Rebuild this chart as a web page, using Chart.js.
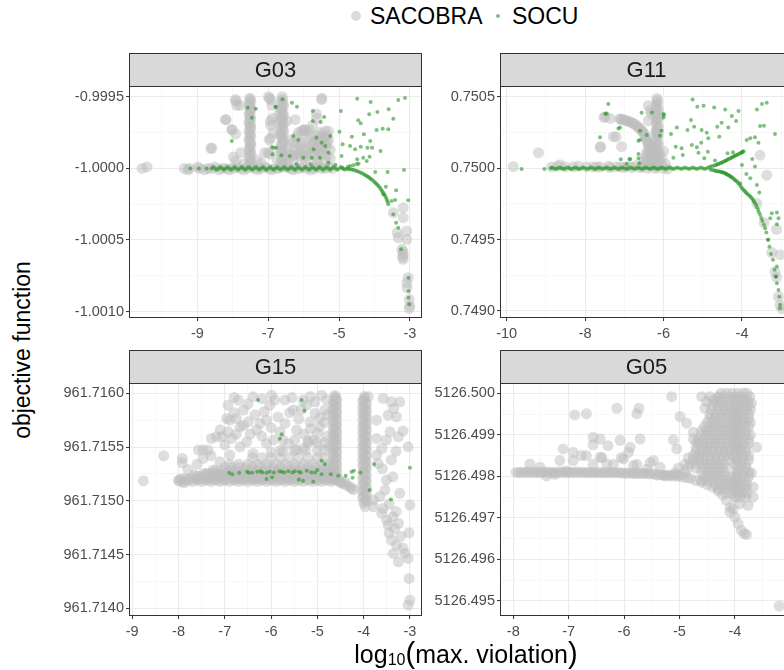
<!DOCTYPE html>
<html>
<head>
<meta charset="utf-8">
<script src="https://cdn.jsdelivr.net/npm/chart.js@4.4.0/dist/chart.umd.min.js"></script>
<style>
  html, body { margin: 0; padding: 0; background: #fff; overflow: hidden; }
  #page { position: relative; width: 784px; height: 670px; overflow: hidden; background: #fff;
          font-family: "Liberation Sans", Arial, sans-serif; color: #000; }
  canvas.panel { position: absolute; }
  .txt { position: absolute; white-space: nowrap; line-height: 23px; }
  .key { position: absolute; border-radius: 50%; }
</style>
</head>
<body>
<div id="page">
  <div class="key" style="left:351px;top:11px;width:10px;height:10px;background:rgba(190,190,190,0.55)"></div>
  <div class="txt" style="left:370px;top:5px;font-size:23px">SACOBRA</div>
  <div class="key" style="left:496px;top:14px;width:4px;height:4px;background:rgba(40,150,40,0.6)"></div>
  <div class="txt" style="left:512px;top:5px;font-size:23px">SOCU</div>

  <canvas id="g03" class="panel" width="397" height="291" style="left:37px;top:53px"></canvas>
  <canvas id="g11" class="panel" width="397" height="291" style="left:408px;top:53px"></canvas>
  <canvas id="g15" class="panel" width="397" height="292" style="left:37px;top:350px"></canvas>
  <canvas id="g05" class="panel" width="397" height="292" style="left:408px;top:350px"></canvas>

  <div class="txt" style="left:22px;top:350px;font-size:23px;transform:translate(-50%,-50%) rotate(-90deg)">objective function</div>
  <div class="txt" style="left:466px;top:641px;font-size:25px;line-height:25px;transform:translateX(-50%)">log<span style="font-size:16px;vertical-align:-2px">10</span><span style="font-size:29px">(</span>max. violation<span style="font-size:29px">)</span></div>
</div>

<script>
// ---------- data ----------
const panelTitles = ["G03", "G11", "G15", "G05"];
const seriesNames = ["SACOBRA", "SOCU"];

// G03
const g03Sacobra = [
  [-10.56,-1.0],[-10.42,-0.99999],[-9.37,-1.0],[-9.27,-1.00001],[-9.22,-1.0],[-8.99,-0.99999],[-8.94,-1.0],[-8.8,-1.00001],
  [-8.7,-1.0],[-8.6,-1.0],[-8.5,-0.99999],[-8.4,-1.00001],[-8.3,-1.0],[-8.19,-1.0],[-8.1,-1.00001],[-8.0,-1.0],[-7.9,-0.99999],
  [-7.8,-1.0],[-7.7,-1.00001],[-7.6,-1.0],[-7.4,-1.0],[-7.3,-1.00001],[-7.2,-1.0],[-7.1,-0.99999],[-7.0,-1.0],[-6.9,-1.00001],
  [-6.8,-1.0],[-6.7,-1.0],[-6.5,-0.99999],[-6.4,-1.0],[-6.3,-1.00001],[-6.2,-1.0],[-6.1,-1.0],[-6.0,-0.99999],[-5.9,-1.0],
  [-5.8,-1.00001],[-5.7,-1.0],[-5.6,-0.99999],[-5.5,-1.0],[-5.4,-1.0],[-5.3,-0.99999],[-5.2,-1.0],
  [-7.52,-0.99997],[-7.5,-0.99994],[-7.53,-0.99991],[-7.51,-0.99988],[-7.52,-0.99985],[-7.5,-0.99982],[-7.53,-0.99979],[-7.51,-0.99976],
  [-7.52,-0.99973],[-7.5,-0.9997],[-7.53,-0.99967],[-7.51,-0.99964],[-7.52,-0.99961],[-7.5,-0.99958],[-7.53,-0.99955],[-7.51,-0.99952],[-7.52,-0.99951],
  [-7.54,-0.999985],[-7.49,-0.999955],[-7.54,-0.999925],[-7.49,-0.999895],[-7.54,-0.999865],[-7.49,-0.999835],[-7.54,-0.999805],[-7.49,-0.999775],
  [-7.54,-0.999745],[-7.49,-0.999715],[-7.54,-0.999685],[-7.49,-0.999655],[-7.54,-0.999625],[-7.49,-0.999595],[-7.54,-0.999565],[-7.49,-0.999535],
  [-6.6,-0.99997],[-6.62,-0.99994],[-6.58,-0.99991],[-6.6,-0.99988],[-6.63,-0.99985],[-6.59,-0.99982],[-6.6,-0.99979],[-6.62,-0.99976],
  [-6.58,-0.99973],[-6.6,-0.9997],[-6.63,-0.99967],[-6.59,-0.99964],[-6.6,-0.99961],[-6.62,-0.99958],[-6.58,-0.99955],[-6.6,-0.99952],
  [-6.61,-0.9995],[-6.7,-0.99962],[-6.72,-0.99968],[-6.68,-0.99976],
  [-6.57,-0.999985],[-6.64,-0.999955],[-6.57,-0.999925],[-6.64,-0.999895],[-6.57,-0.999865],[-6.64,-0.999835],[-6.57,-0.999805],[-6.64,-0.999775],
  [-6.57,-0.999745],[-6.64,-0.999715],[-6.57,-0.999685],[-6.64,-0.999655],[-6.57,-0.999625],[-6.64,-0.999595],[-6.57,-0.999565],[-6.64,-0.999535],
  [-7.91,-0.99953],[-7.89,-0.99956],[-8.19,-0.99966],[-8.03,-0.99973],[-7.92,-0.99976],[-8.62,-0.99986],[-7.78,-0.99989],[-7.92,-0.99995],
  [-6.97,-0.99951],[-6.93,-0.99952],[-6.9,-0.99956],[-7.1,-0.99989],[-7.0,-0.99989],[-6.95,-0.9999],[-6.88,-0.99965],[-6.93,-0.9997],
  [-6.85,-0.99975],[-6.97,-0.9998],[-5.49,-0.99952],[-5.64,-0.99962],[-5.96,-0.99973],[-6.06,-0.99974],[-8.02,-0.99973],[-8.59,-0.99986],
  [-8.21,-0.99966],[-7.93,-0.99952],[-7.79,-0.99956],[-6.99,-0.9995],[-6.94,-0.99967],[-6.94,-0.99979],[-6.47,-0.99967],[-6.24,-0.99966],
  [-6.0,-0.99973],[-5.95,-0.99974],[-6.19,-0.99982],[-6.28,-0.99987],[-6.09,-0.99992],[-5.49,-0.99951],[-5.63,-0.99965],[-5.82,-0.99977],
  [-5.63,-0.9998],[-5.44,-0.99978],[-5.34,-0.99982],[-5.49,-0.99987],[-5.72,-0.99987],[-5.25,-0.99987],[-5.91,-0.99992],[-6.28,-0.99994],
  [-5.63,-0.99994],[-5.39,-0.99994],[-7.32,-0.99994],[-7.98,-0.99992],[-6.66,-0.99987],[-5.8,-0.99984],[-5.6,-0.99985],[-5.5,-0.99978],
  [-5.4,-0.99974],[-5.35,-0.99977],[-5.5,-0.9999],[-5.7,-0.99991],[-6.0,-0.99987],[-5.9,-0.9998],[-6.2,-0.99978],[-6.1,-0.99985],
  [-5.3,-0.9998],[-5.45,-0.99982],[-5.55,-0.99975],[-5.75,-0.9997],[-6.05,-0.99982],[-6.35,-0.9999],[-6.4,-0.9998],
  [-6.4,-0.99993],[-6.3,-0.99991],[-6.2,-0.9999],[-6.1,-0.99989],[-6.0,-0.99991],[-5.9,-0.99988],[-5.8,-0.9999],[-5.7,-0.99982],
  [-5.6,-0.9998],[-5.55,-0.99988],[-5.45,-0.99985],[-5.4,-0.99979],[-5.35,-0.99985],[-5.3,-0.99974],[-5.5,-0.99982],[-5.65,-0.99977],
  [-5.75,-0.99985],[-5.85,-0.99973],[-6.15,-0.99975],[-6.3,-0.99982],[-6.45,-0.99986],[-5.95,-0.99995],[-5.6,-0.99996],[-5.35,-0.99991],
  [-5.25,-0.99993],[-6.75,-0.99994],[-6.5,-0.99996],[-7.2,-0.99996],[-7.7,-0.99997],
  [-3.19,-1.000274],[-3.47,-1.000309],[-3.19,-1.000344],[-3.09,-1.000437],[-3.36,-1.000449],[-3.33,-1.000484],[-3.09,-1.000495],
  [-3.23,-1.000565],[-3.19,-1.0006],[-3.19,-1.000634],[-3.05,-1.000763],[-3.09,-1.000798],[-3.08,-1.000833],[-3.02,-1.000914],
  [-3.0,-1.00096],[-3.02,-1.000977],[-3.2,-1.00058],[-3.21,-1.00062]
];
const g03Socu = [
  [-9.2,-1.0],[-8.96,-1.0],[-8.74,-1.0],
  [-8.6,-1.0],[-8.55,-0.99999],[-8.5,-1.0],[-8.45,-1.00001],[-8.4,-1.0],[-8.35,-0.99999],[-8.3,-1.0],[-8.25,-1.00001],[-8.2,-1.0],
  [-8.15,-0.99999],[-8.1,-1.0],[-8.05,-1.00001],[-8.0,-1.0],[-7.95,-0.99999],[-7.9,-1.0],[-7.85,-1.00001],[-7.8,-1.0],[-7.75,-0.99999],
  [-7.7,-1.0],[-7.65,-1.00001],[-7.6,-1.0],[-7.55,-0.99999],[-7.5,-1.0],[-7.45,-1.00001],[-7.4,-1.0],[-7.35,-0.99999],[-7.3,-1.0],
  [-7.25,-1.00001],[-7.2,-1.0],[-7.15,-0.99999],[-7.1,-1.0],[-7.05,-1.00001],[-7.0,-1.0],[-6.95,-0.99999],[-6.9,-1.0],[-6.85,-1.00001],
  [-6.8,-1.0],[-6.75,-0.99999],[-6.7,-1.0],[-6.65,-1.00001],[-6.6,-1.0],[-6.55,-0.99999],[-6.5,-1.0],[-6.45,-1.00001],[-6.4,-1.0],
  [-6.35,-0.99999],[-6.3,-1.0],[-6.25,-1.00001],[-6.2,-1.0],[-6.15,-0.99999],[-6.1,-1.0],[-6.05,-1.00001],[-6.0,-1.0],[-5.95,-0.99999],
  [-5.9,-1.0],[-5.85,-1.00001],[-5.8,-1.0],[-5.75,-0.99999],[-5.7,-1.0],[-5.65,-1.00001],[-5.6,-1.0],[-5.55,-0.99999],[-5.5,-1.0],
  [-5.45,-1.00001],[-5.4,-1.0],[-5.35,-0.99999],[-5.3,-1.0],[-5.25,-1.00001],[-5.2,-1.0],[-5.15,-0.99999],[-5.1,-1.0],[-5.05,-1.00001],
  [-5.0,-1.0],[-4.95,-0.99999],[-4.9,-1.0],[-4.85,-1.00001],
  [-4.8,-1.000003],[-4.75,-1.000005],[-4.7,-1.000006],[-4.65,-1.000008],[-4.6,-1.00001],[-4.55,-1.000014],[-4.5,-1.000018],
  [-4.45,-1.000023],[-4.4,-1.000028],[-4.35,-1.000034],[-4.3,-1.00004],[-4.26,-1.000047],[-4.22,-1.000053],[-4.18,-1.000059],
  [-4.15,-1.000065],[-4.11,-1.000072],[-4.08,-1.000078],[-4.03,-1.000088],[-3.99,-1.000097],[-3.96,-1.000105],[-3.92,-1.000114],
  [-3.89,-1.000123],[-3.85,-1.000134],[-3.82,-1.000145],[-3.79,-1.000157],[-3.76,-1.000168],[-3.73,-1.00018],[-3.7,-1.000193],
  [-3.67,-1.000206],[-3.65,-1.00022],[-3.63,-1.000235],[-3.61,-1.00025],
  [-4.9,-0.999995],[-4.75,-0.999988],[-4.69,-0.999983],[-4.6,-0.999978],[-4.5,-0.99997],[-4.45,-0.999967],
  [-6.6,-0.999518],[-6.33,-0.999542],[-6.19,-0.999569],[-6.8,-0.999569],[-5.74,-0.9996],[-5.74,-0.999669],[-5.52,-0.999676],
  [-5.42,-0.999641],[-4.95,-0.9996],[-4.49,-0.999514],[-4.11,-0.999537],[-3.92,-0.999607],[-4.15,-0.999622],[-3.6,-0.999588],
  [-3.33,-0.999523],[-3.14,-0.999509],[-3.47,-0.999653],[-4.46,-0.999664],[-4.39,-0.999685],[-3.94,-0.999732],[-3.77,-0.999723],
  [-3.61,-0.999727],[-4.99,-0.999744],[-4.3,-0.999762],[-4.64,-0.999779],[-4.12,-0.999809],[-4.07,-0.999856],[-4.2,-0.999856],
  [-4.39,-0.999849],[-4.55,-0.999867],[-4.69,-0.999844],[-4.9,-0.999832],[-3.83,-0.999879],[-4.93,-0.999913],[-4.49,-0.999936],
  [-4.32,-0.999925],[-4.14,-0.999918],[-4.22,-0.999948],[-3.98,-1.000025],[-3.63,-1.000025],[-3.17,-1.000011],[-3.68,-1.000128],
  [-3.39,-1.000153],[-3.75,-1.000181],[-3.42,-1.000221],[-3.52,-1.000227],[-3.05,-1.000223],[-3.47,-1.00032],[-3.39,-1.000379],
  [-3.33,-1.000414],[-3.25,-1.000565],[-3.04,-1.000763],[-3.04,-1.000856],[-3.04,-1.000902],[-3.02,-1.000948],
  [-6.29,-0.999774],[-6.15,-0.999802],[-5.64,-0.999786],[-5.49,-0.999821],[-5.39,-0.999844],[-5.25,-0.999774],[-5.3,-0.99989],
  [-5.72,-0.999867],[-5.77,-0.999925],[-5.54,-0.999925],[-6.01,-0.999925],[-6.39,-0.999913],[-6.63,-0.999909],[-6.85,-0.999856],
  [-7.58,-0.999576],[-7.35,-0.999583],[-7.46,-0.999646],[-8.03,-0.999809],[-6.9,-0.999851],[-6.78,-0.999856],[-6.88,-0.999902],
  [-6.78,-0.999572],[-5.8,-0.99997],[-5.3,-0.99996],[-5.1,-0.999975],[-6.2,-0.99997]
];

// G11
const g11Sacobra = [
  [-9.83,0.750012],[-9.19,0.75011],[-8.85,0.75001],[-8.64,0.750025],[-8.51,0.75001],[-8.17,0.750015],[-7.96,0.75001],[-7.79,0.75001],
  [-7.62,0.75001],[-7.36,0.750005],[-7.2,0.75001],[-7.0,0.750005],[-6.8,0.750005],[-6.6,0.750005],[-6.4,0.75],[-6.2,0.75],[-6.0,0.75],
  [-5.9,0.749995],
  [-7.6,0.750152],[-7.52,0.750357],[-7.36,0.75035],[-7.21,0.750222],[-7.07,0.750152],[-7.49,0.750362],[-7.28,0.750222],[-7.62,0.750147],
  [-7.12,0.750346],[-7.05,0.750342],[-6.94,0.750334],[-6.85,0.750325],[-6.77,0.750315],[-6.68,0.750298],[-6.6,0.750276],[-6.53,0.750255],
  [-6.47,0.750229],[-6.43,0.7502],[-6.39,0.750171],[-6.36,0.750135],[-6.33,0.750101],[-6.31,0.75007],[-6.3,0.750042],
  [-7.08,0.750344],[-6.99,0.750338],[-6.9,0.75033],[-6.81,0.75032],[-6.72,0.750307],[-6.64,0.750287],[-6.56,0.750266],[-6.5,0.750242],
  [-6.45,0.750215],[-6.41,0.750186],[-6.37,0.750153],[-6.34,0.750118],[-6.32,0.750086],[-6.3,0.750056],[-6.3,0.75002],
  [-6.17,0.75001],[-6.15,0.75004],[-6.18,0.75007],[-6.16,0.7501],[-6.17,0.75013],[-6.15,0.75016],[-6.18,0.75019],[-6.16,0.75022],
  [-6.17,0.75025],[-6.15,0.75028],[-6.18,0.75031],[-6.16,0.75034],[-6.17,0.75037],[-6.15,0.7504],[-6.18,0.75043],[-6.16,0.75046],
  [-6.17,0.75049],
  [-6.19,0.750025],[-6.14,0.750055],[-6.19,0.750085],[-6.14,0.750115],[-6.19,0.750145],[-6.14,0.750175],[-6.19,0.750205],[-6.14,0.750235],
  [-6.19,0.750265],[-6.14,0.750295],[-6.19,0.750325],[-6.14,0.750355],[-6.19,0.750385],[-6.14,0.750415],[-6.19,0.750445],[-6.16,0.750475],
  [-6.39,0.750439],[-6.34,0.750404],[-6.39,0.750334],[-6.45,0.7501],[-6.5,0.75006],[-6.25,0.75015],[-6.2,0.75025],[-6.45,0.75003],
  [-6.1,0.75005],[-6.05,0.75002],[-6.3,0.75038],[-6.0,0.75012],[-5.95,0.75003],[-6.4,0.75005],[-6.35,0.75002],[-6.25,0.75008],
  [-6.45,0.75008],[-6.35,0.75006],[-6.25,0.75004],[-6.4,0.75013],[-6.3,0.75011],[-6.1,0.7501],[-6.05,0.75007],[-6.5,0.75003],
  [-6.55,0.75001],[-6.7,0.75002],[-6.9,0.750015],[-7.1,0.75001],[-7.4,0.750015],[-7.7,0.75001],[-8.3,0.75001],[-8.7,0.750015],
  [-3.54,0.750092],[-3.37,0.749952],[-3.62,0.749753],[-3.44,0.749619],[-3.12,0.749572],[-3.24,0.74941],[-3.03,0.749395],
  [-3.16,0.749275],[-3.12,0.749237],[-3.07,0.7491],[-3.03,0.74904],[-2.98,0.749015]
];
const g11Socu = [
  [-8.88,0.75],[-8.85,0.750005],[-8.8,0.75],[-8.75,0.749995],[-8.7,0.75],[-8.65,0.750005],[-8.6,0.75],[-8.55,0.749995],[-8.5,0.75],
  [-8.45,0.750005],[-8.4,0.75],[-8.35,0.749995],[-8.3,0.75],[-8.25,0.750005],[-8.2,0.75],[-8.15,0.749995],[-8.1,0.75],[-8.05,0.750005],
  [-8.0,0.75],[-7.95,0.749995],[-7.9,0.75],[-7.85,0.750005],[-7.8,0.75],[-7.75,0.749995],[-7.7,0.75],[-7.65,0.750005],[-7.6,0.75],
  [-7.55,0.749995],[-7.5,0.75],[-7.45,0.750005],[-7.4,0.75],[-7.35,0.749995],[-7.3,0.75],[-7.25,0.750005],[-7.2,0.75],[-7.15,0.749995],
  [-7.1,0.75],[-7.05,0.750005],[-7.0,0.75],[-6.95,0.749995],[-6.9,0.75],[-6.85,0.750005],[-6.8,0.75],[-6.75,0.749995],[-6.7,0.75],
  [-6.65,0.750005],[-6.6,0.75],[-6.55,0.749995],[-6.5,0.75],[-6.45,0.750005],[-6.4,0.75],[-6.35,0.749995],[-6.3,0.75],[-6.25,0.750005],
  [-6.2,0.75],[-6.15,0.749995],[-6.1,0.75],[-6.05,0.750005],[-6.0,0.75],[-5.95,0.749995],[-5.9,0.75],[-5.85,0.750005],[-5.8,0.75],
  [-5.75,0.749995],[-5.7,0.75],[-5.65,0.750005],[-5.6,0.75],[-5.55,0.749995],[-5.5,0.75],[-5.45,0.750005],[-5.4,0.75],[-5.35,0.749995],
  [-5.3,0.75],[-5.25,0.750005],[-5.2,0.75],[-5.15,0.749995],[-5.1,0.75],[-5.05,0.750005],[-5.0,0.75],[-4.95,0.749995],[-4.9,0.75],
  [-4.85,0.750005],
  [-4.81,0.750012],[-4.7,0.75002],[-4.63,0.750028],[-4.56,0.750035],[-4.5,0.750043],[-4.43,0.750052],[-4.37,0.75006],[-4.3,0.75007],
  [-4.24,0.750079],[-4.18,0.750088],[-4.12,0.750096],[-4.05,0.750105],[-4.0,0.750112],[-3.96,0.750119],
  [-4.75,0.750016],[-4.66,0.750024],[-4.6,0.750031],[-4.53,0.750039],[-4.46,0.750048],[-4.4,0.750056],[-4.34,0.750065],[-4.27,0.750075],
  [-4.21,0.750083],[-4.15,0.750092],[-4.08,0.7501],[-4.02,0.750109],[-3.98,0.750116],
  [-4.8,0.74999],[-4.7,0.749985],[-4.63,0.74998],[-4.56,0.749977],[-4.5,0.749972],[-4.45,0.749967],[-4.4,0.74996],[-4.35,0.749954],
  [-4.3,0.749945],[-4.25,0.749935],[-4.19,0.74992],[-4.13,0.749907],[-4.06,0.749885],[-4.0,0.74986],[-3.94,0.749843],[-3.88,0.749825],
  [-3.81,0.749808],[-3.75,0.74979],[-3.7,0.74977],[-3.64,0.749744],[-3.59,0.74971],[-3.54,0.749674],[-3.48,0.74963],[-3.41,0.74958],
  [-4.75,0.749988],[-4.67,0.749982],[-4.6,0.749978],[-4.53,0.749974],[-4.48,0.74997],[-4.42,0.749963],[-4.38,0.749957],[-4.33,0.74995],
  [-4.28,0.74994],[-4.22,0.749928],[-4.16,0.749914],[-4.1,0.749897],[-4.03,0.749872],[-3.97,0.749851],[-3.91,0.749834],[-3.85,0.749816],
  [-3.78,0.7498],[-3.72,0.74978],[-3.67,0.749757],[-3.62,0.749727],[-3.57,0.749692],[-3.51,0.749652],
  [-3.44,0.749605],[-3.38,0.74955],[-3.34,0.7495],[-3.3,0.74945],[-3.26,0.7494],[-3.17,0.74929],[-3.14,0.74924],[-3.05,0.7491],
  [-3.21,0.749359],[-3.11,0.749195],[-3.07,0.749148],[-3.03,0.749044],[-3.03,0.74902],
  [-5.26,0.750483],[-5.14,0.750432],[-4.98,0.750439],[-4.71,0.750427],[-4.43,0.750413],[-4.09,0.750402],[-4.26,0.750367],[-3.62,0.750413],
  [-3.49,0.750451],[-3.37,0.75046],[-4.52,0.75032],[-4.63,0.750292],[-4.35,0.750287],[-4.15,0.750332],[-5.22,0.750292],[-5.03,0.750269],
  [-5.39,0.750269],[-4.9,0.75025],[-5.3,0.750339],[-5.66,0.750287],[-5.81,0.750241],[-5.99,0.750374],[-6.05,0.750264],[-4.86,0.75021],
  [-5.04,0.75018],[-5.15,0.750147],[-5.28,0.750164],[-5.54,0.75014],[-5.69,0.750152],[-5.51,0.750094],[-5.75,0.750075],[-5.11,0.75011],
  [-4.96,0.75007],[-4.87,0.750117],[-4.58,0.750222],[-4.37,0.750105],[-4.23,0.750112],[-4.69,0.750054],[-3.88,0.750199],[-3.79,0.75021],
  [-3.67,0.750217],[-3.58,0.75018],[-3.54,0.750297],[-3.44,0.750299],[-3.16,0.750241],[-3.74,0.750066],[-3.67,0.750012],[-4.0,0.750024],
  [-3.89,0.749961],[-4.05,0.749895],[-3.79,0.74993],[-3.62,0.749884],[-3.56,0.74983],[-3.24,0.749685],[-3.11,0.74969],[-3.07,0.74965],
  [-3.28,0.74965],[-3.11,0.749608],[-3.33,0.749499],[-3.11,0.749312],[-3.13,0.749242],
  [-7.41,0.750451],[-7.45,0.750385],[-7.15,0.75028],[-7.62,0.750217],[-9.62,0.749996],[-9.04,0.749996],[-7.09,0.750063],[-6.85,0.750063],
  [-6.64,0.75007],[-6.6,0.750199],[-6.56,0.75039],[-6.43,0.750234],[-6.62,0.750035],[-6.94,0.750031],
  [-7.49,0.750381],[-7.11,0.750287],[-6.64,0.750194],[-6.6,0.750264],[-6.87,0.750066],[-6.64,0.750101],[-6.3,0.750392],[-6.0,0.750381],
  [-6.0,0.750357],[-6.09,0.750229]
];

// G15
const g15Sacobra = [
  [-8.76,961.715186],[-8.32,961.715419],[-7.92,961.715394],[-7.92,961.715353],[-7.99,961.715186],[-7.88,961.715167],[-7.57,961.715472],
  [-7.47,961.715472],[-7.36,961.715472],[-7.47,961.715394],[-7.66,961.715239],[-7.29,961.71558],[-7.18,961.715595],[-7.06,961.715595],
  [-6.93,961.71589],[-6.96,961.715766],[-6.89,961.71575],[-6.75,961.715766],[-6.71,961.715937],[-6.93,961.715642],[-6.85,961.71558],
  [-6.6,961.715844],[-6.49,961.715735],[-6.39,961.715967],[-6.67,961.715688],[-6.31,961.715658],[-6.53,961.715549],[-6.67,961.715502],
  [-6.39,961.715441],[-6.1,961.71575],[-6.03,961.71589],[-5.99,961.715983],[-5.92,961.715937],[-5.81,961.715642],[-5.7,961.71572],
  [-5.52,961.715844],[-5.7,961.715937],[-5.45,961.715658],[-5.49,961.715565],[-5.31,961.715937],[-5.23,961.71589],[-5.05,961.715921],
  [-5.16,961.715735],[-5.05,961.715813],[-4.91,961.715983],[-4.84,961.715844],[-4.95,961.715688],[-5.09,961.715565],[-5.95,961.715565],
  [-5.63,961.715534],[-6.24,961.71572],[-5.74,961.715565],[-5.45,961.715472],[-6.1,961.715534],[-6.89,961.715425],[-7.11,961.715363],
  [-7.25,961.715286],[-7.39,961.715255],
  [-6.8,961.71582],[-6.5,961.7159],[-6.2,961.71595],[-6.45,961.71562],[-6.2,961.7156],[-6.0,961.71568],[-5.85,961.71578],[-5.6,961.71582],
  [-5.4,961.71576],[-5.3,961.71562],[-5.2,961.71556],[-5.0,961.71563],[-4.85,961.71573],[-4.8,961.71594],[-5.15,961.71597],[-5.55,961.71596],
  [-6.15,961.71583],[-6.35,961.7158],[-6.6,961.7157],[-6.75,961.71562],[-7.0,961.71552],[-7.3,961.71542],[-7.6,961.71534],[-7.8,961.71529],
  [-6.0,961.71545],[-5.75,961.71546],[-5.3,961.71549],[-5.15,961.71567],[-4.8,961.7156],[-4.75,961.7155],[-4.78,961.7158],[-4.95,961.71577],
  [-5.35,961.71585],[-6.8,961.71596],[-7.1,961.71566],
  [-3.72,961.715425],[-3.61,961.715487],[-3.51,961.715565],[-3.43,961.715642],[-3.47,961.715797],[-3.4,961.715921],[-3.22,961.715921],
  [-3.29,961.715781],[-3.25,961.715595],[-3.04,961.715502],[-3.72,961.71575],[-3.9,961.715967],[-3.58,961.715952],[-3.72,961.71558],
  [-3.69,961.715348],[-3.51,961.715193],[-3.37,961.715223],[-3.54,961.7151],[-3.22,961.715069],[-3.79,961.714944],[-3.58,961.714929],
  [-3.37,961.714851],[-3.61,961.714883],[-3.47,961.714774],[-3.33,961.714743],[-3.25,961.71479],[-3.4,961.714634],[-3.29,961.714588],
  [-3.36,961.71451],[-3.11,961.71451],[-3.25,961.714432],[-3.04,961.714464],[-3.02,961.714702],[-3.0,961.71496],[-3.02,961.714278],
  [-3.0,961.714076],[-3.04,961.71403],[-3.97,961.714944],[-3.79,961.715007],[-3.65,961.71504],[-3.45,961.71497],[-3.3,961.7149],
  [-3.5,961.71482],[-3.2,961.71467],[-3.15,961.71456],[-3.45,961.7147],[-3.6,961.7153],[-3.4,961.71538],[-3.3,961.71546],
  [-3.15,961.71565],[-3.35,961.71586],
  // dense band
  [-8.0,961.71519],[-7.9,961.71518],[-7.8,961.71519],[-7.7,961.71518],[-7.6,961.71519],[-7.5,961.71518],[-7.4,961.71519],[-7.3,961.71518],
  [-7.2,961.71519],[-7.1,961.71518],[-7.0,961.71519],[-6.9,961.71518],[-6.8,961.71519],[-6.7,961.71518],[-6.6,961.71519],[-6.5,961.71518],
  [-6.4,961.71519],[-6.3,961.71518],[-6.2,961.71519],[-6.1,961.71518],[-6.0,961.71519],[-5.9,961.71518],[-5.8,961.71519],[-5.7,961.71518],
  [-5.6,961.71519],[-5.5,961.71518],[-5.4,961.71519],[-5.3,961.71518],[-5.2,961.71519],[-5.1,961.71518],[-5.0,961.71519],[-4.9,961.71518],
  [-4.8,961.71519],[-4.7,961.71518],[-4.6,961.71519],[-4.5,961.71518],
  [-7.95,961.715207],[-7.85,961.715207],[-7.75,961.715207],[-7.65,961.715207],[-7.55,961.715207],[-7.45,961.715207],[-7.35,961.715207],
  [-7.25,961.715207],[-7.15,961.715207],[-7.05,961.715207],[-6.95,961.715207],[-6.85,961.715207],[-6.75,961.715207],[-6.65,961.715207],
  [-6.55,961.715207],[-6.45,961.715207],[-6.35,961.715207],[-6.25,961.715207],[-6.15,961.715207],[-6.05,961.715207],[-5.95,961.715207],
  [-5.85,961.715207],[-5.75,961.715207],[-5.65,961.715207],[-5.55,961.715207],[-5.45,961.715207],[-5.35,961.715207],[-5.25,961.715207],
  [-5.15,961.715207],[-5.05,961.715207],[-4.95,961.715207],[-4.85,961.715207],[-4.75,961.715207],[-4.65,961.715207],[-4.55,961.715207],
  [-7.6,961.71523],[-7.5,961.71523],[-7.4,961.71523],[-7.3,961.71523],[-7.2,961.71523],[-7.1,961.71523],[-7.0,961.71523],[-6.9,961.71523],
  [-6.8,961.71523],[-6.7,961.71523],[-6.6,961.71523],[-6.5,961.71523],[-6.4,961.71523],[-6.3,961.71523],[-6.2,961.71523],[-6.1,961.71523],
  [-6.0,961.71523],[-5.9,961.71523],[-5.8,961.71523],[-5.7,961.71523],[-5.6,961.71523],[-5.5,961.71523],[-5.4,961.71523],[-5.3,961.71523],
  [-5.2,961.71523],[-5.1,961.71523],[-5.0,961.71523],[-4.9,961.71523],[-4.8,961.71523],[-4.7,961.71523],[-4.6,961.71523],
  [-7.45,961.715255],[-7.35,961.715255],[-7.25,961.715255],[-7.15,961.715255],[-7.05,961.715255],[-6.95,961.715255],[-6.85,961.715255],
  [-6.75,961.715255],[-6.65,961.715255],[-6.55,961.715255],[-6.45,961.715255],[-6.35,961.715255],[-6.25,961.715255],[-6.15,961.715255],
  [-6.05,961.715255],[-5.95,961.715255],[-5.85,961.715255],[-5.75,961.715255],[-5.65,961.715255],[-5.55,961.715255],[-5.45,961.715255],
  [-5.35,961.715255],[-5.25,961.715255],[-5.15,961.715255],[-5.05,961.715255],[-4.95,961.715255],[-4.85,961.715255],[-4.75,961.715255],
  [-4.65,961.715255],
  [-7.2,961.71528],[-7.05,961.71528],[-6.9,961.71528],[-6.75,961.71528],[-6.6,961.71528],[-6.45,961.71528],[-6.3,961.71528],[-6.15,961.71528],
  [-6.0,961.71528],[-5.85,961.71528],[-5.7,961.71528],[-5.55,961.71528],[-5.4,961.71528],[-5.25,961.71528],[-5.1,961.71528],[-4.95,961.71528],
  [-4.8,961.71528],[-4.7,961.71528],
  [-7.0,961.71531],[-6.85,961.71531],[-6.7,961.71531],[-6.55,961.71531],[-6.4,961.71531],[-6.25,961.71531],[-6.1,961.71531],[-5.95,961.71531],
  [-5.8,961.71531],[-5.65,961.71531],[-5.5,961.71531],[-5.35,961.71531],[-5.2,961.71531],[-5.05,961.71531],[-4.9,961.71531],[-4.75,961.71531],
  [-6.9,961.71534],[-6.7,961.71534],[-6.5,961.71534],[-6.3,961.71534],[-6.1,961.71534],[-5.9,961.71534],[-5.7,961.71534],[-5.5,961.71534],
  [-5.3,961.71534],[-5.1,961.71534],[-4.9,961.71534],[-4.75,961.71534],
  [-6.4,961.7154],[-6.2,961.7154],[-6.0,961.7154],[-5.8,961.7154],[-5.6,961.7154],[-5.4,961.7154],[-5.2,961.7154],[-5.0,961.7154],[-4.85,961.7154],
  [-5.8,961.71547],[-5.5,961.71547],[-5.25,961.71547],[-5.0,961.71547],[-4.85,961.71547],
  [-5.2,961.71554],[-5.0,961.71554],[-4.85,961.71554],
  [-4.45,961.71516],[-4.38,961.715145],[-4.3,961.71513],[-4.26,961.715115],[-4.22,961.715105],[-4.4,961.715175],[-4.5,961.71517],
  // column near -4.6
  [-4.64,961.7152],[-4.6,961.71523],[-4.64,961.71526],[-4.6,961.71529],[-4.64,961.71532],[-4.6,961.71535],[-4.64,961.71538],[-4.6,961.71541],
  [-4.64,961.71544],[-4.6,961.71547],[-4.64,961.7155],[-4.6,961.71553],[-4.64,961.71556],[-4.6,961.71559],[-4.64,961.71562],[-4.6,961.71565],
  [-4.64,961.71568],[-4.6,961.71571],[-4.64,961.71574],[-4.6,961.71577],[-4.64,961.7158],[-4.6,961.71583],[-4.64,961.71586],[-4.6,961.71589],
  [-4.64,961.71592],[-4.6,961.71595],[-4.62,961.71598],
  [-4.58,961.715215],[-4.66,961.715245],[-4.58,961.715275],[-4.66,961.715305],[-4.58,961.715335],[-4.66,961.715365],[-4.58,961.715395],
  [-4.66,961.715425],[-4.58,961.715455],[-4.66,961.715485],[-4.58,961.715515],[-4.66,961.715545],[-4.58,961.715575],[-4.66,961.715605],
  [-4.58,961.715635],[-4.66,961.715665],[-4.58,961.715695],[-4.66,961.715725],[-4.58,961.715755],[-4.66,961.715785],[-4.58,961.715815],
  [-4.66,961.715845],[-4.58,961.715875],[-4.66,961.715905],[-4.58,961.715935],[-4.62,961.715965],
  // column near -4.0
  [-4.0,961.71498],[-3.96,961.71501],[-4.0,961.71504],[-3.96,961.71507],[-4.0,961.7151],[-3.96,961.71513],[-4.0,961.71516],[-3.96,961.71519],
  [-4.0,961.71522],[-3.96,961.71525],[-4.0,961.71528],[-3.96,961.71531],[-4.0,961.71534],[-3.96,961.71537],[-4.0,961.7154],[-3.96,961.71543],
  [-4.0,961.71546],[-3.96,961.71549],[-4.0,961.71552],[-3.96,961.71555],[-4.0,961.71558],[-3.96,961.71561],[-4.0,961.71564],[-3.96,961.71567],
  [-4.0,961.7157],[-3.96,961.71573],[-4.0,961.71576],[-3.96,961.71579],[-4.0,961.71582],[-3.96,961.71585],[-4.0,961.71588],[-3.96,961.71591],
  [-4.0,961.71594],[-3.98,961.71597],
  [-3.94,961.714995],[-4.02,961.715025],[-3.94,961.715055],[-4.02,961.715085],[-3.94,961.715115],[-4.02,961.715145],[-3.94,961.715175],
  [-4.02,961.715205],[-3.94,961.715235],[-4.02,961.715265],[-3.94,961.715295],[-4.02,961.715325],[-3.94,961.715355],[-4.02,961.715385],
  [-3.94,961.715415],[-4.02,961.715445],[-3.94,961.715475],[-4.02,961.715505],[-3.94,961.715535],[-4.02,961.715565],[-3.94,961.715595],
  [-4.02,961.715625],[-3.94,961.715655],[-4.02,961.715685],[-3.94,961.715715],[-4.02,961.715745],[-3.94,961.715775],[-4.02,961.715805],
  [-3.94,961.715835],[-4.02,961.715865],[-3.94,961.715895],[-4.02,961.715925],[-3.98,961.715955]
];
const g15Socu = [
  [-6.28,961.715937],[-5.34,961.715937],[-5.28,961.715837],[-5.77,961.71562],[-5.81,961.715577],[-4.91,961.715372],[-4.84,961.715341],
  [-3.77,961.715339],[-3.0,961.715307],[-3.87,961.7151],[-3.41,961.715013],
  [-6.905,961.71526],[-6.84,961.715248],[-6.69,961.71526],[-6.52,961.71527],[-6.48,961.71526],[-6.41,961.71526],[-6.3,961.71527],
  [-6.23,961.715276],[-6.19,961.715264],[-6.1,961.71526],[-6.03,961.71527],[-5.94,961.715264],[-5.82,961.715276],[-5.77,961.71527],
  [-5.72,961.715264],[-5.63,961.715276],[-5.54,961.715264],[-5.49,961.715276],[-5.4,961.71527],[-5.36,961.715264],[-5.23,961.715279],
  [-5.13,961.715264],[-5.05,961.715264],[-5.0,961.715286],[-4.91,961.715248],[-4.71,961.715248],[-4.55,961.715233],[-4.39,961.715233],
  [-4.26,961.71527],[-4.21,961.715279],[-4.24,961.715214],[-4.07,961.715264],
  [-6.1,961.715202],[-5.98,961.715218],[-5.4,961.715199],[-5.31,961.715186],[-5.09,961.715177]
];

// G05
const g05Sacobra = [
  [-7.95,5126.4981],[-7.85,5126.4981],[-7.75,5126.49811],[-7.65,5126.4981],[-7.55,5126.4981],[-7.45,5126.49811],[-7.35,5126.4981],
  [-7.25,5126.4981],[-7.15,5126.49811],[-7.05,5126.4981],[-6.95,5126.4981],[-6.85,5126.49811],[-6.75,5126.4981],[-6.65,5126.4981],
  [-6.55,5126.49809],[-6.45,5126.4981],[-6.35,5126.49809],[-6.25,5126.4981],[-6.15,5126.49809],[-6.05,5126.49809],[-5.95,5126.49808],
  [-5.85,5126.49808],[-5.75,5126.49807],[-5.65,5126.49807],[-5.55,5126.49806],[-5.45,5126.49805],[-5.35,5126.49804],[-5.25,5126.49803],
  [-5.15,5126.49801],[-5.05,5126.498],
  [-7.9,5126.49809],[-7.8,5126.49809],[-7.7,5126.49809],[-7.6,5126.49809],[-7.5,5126.49809],[-7.4,5126.49809],[-7.3,5126.49809],
  [-7.2,5126.49809],[-7.1,5126.49809],[-7.0,5126.49809],[-6.9,5126.49809],[-6.8,5126.49809],[-6.7,5126.49809],[-6.6,5126.49809],
  [-6.5,5126.49809],[-6.4,5126.49809],[-6.3,5126.49809],[-6.2,5126.49809],[-6.1,5126.49809],[-6.0,5126.49807],[-5.9,5126.49807],
  [-5.8,5126.49807],[-5.7,5126.49807],[-5.6,5126.49807],[-5.5,5126.49807],[-5.4,5126.49803],[-5.3,5126.49803],[-5.2,5126.49803],
  [-5.1,5126.49803],[-5.0,5126.49803],
  [-4.95,5126.49799],[-4.87,5126.49797],[-4.8,5126.49795],[-4.7,5126.4979],[-4.6,5126.49786],[-4.5,5126.4978],[-4.4,5126.49774],
  [-4.3,5126.49765],[-4.22,5126.49755],[-4.15,5126.49742],[-4.08,5126.49725],[-4.0,5126.49702],[-3.94,5126.49686],[-3.88,5126.4967],
  [-3.83,5126.49662],[-3.79,5126.4966],
  [-6.89,5126.49948],[-6.68,5126.49951],[-6.13,5126.49964],[-5.77,5126.49951],[-5.73,5126.49964],[-5.14,5126.49992],[-6.56,5126.49894],
  [-6.43,5126.4989],[-7.1,5126.49866],[-6.92,5126.49858],[-6.77,5126.4985],[-6.07,5126.49887],[-5.89,5126.4987],[-5.71,5126.4989],
  [-6.29,5126.49874],[-6.05,5126.49845],[-5.92,5126.49858],[-6.56,5126.49876],[-6.4,5126.49845],[-6.56,5126.49829],[-6.19,5126.49829],
  [-5.77,5126.49829],[-5.59,5126.49817],[-5.53,5126.49833],[-7.25,5126.49805],[-7.4,5126.49801],[-7.04,5126.49813],[-5.26,5126.49801],
  [-5.05,5126.49866],[-5.02,5126.4982],[-5.08,5126.49808],[-4.9,5126.49829],[-4.84,5126.49845],[-4.75,5126.4989],[-4.75,5126.49906],
  [-4.69,5126.49882],[-4.6,5126.49992],[-4.51,5126.4998],[-4.54,5126.49964],[-4.45,5126.49992],[-4.39,5126.49984],[-4.3,5126.49992],
  [-3.73,5126.49992],[-3.7,5126.49976],[-3.61,5126.4987],[-3.7,5126.49808],[-3.67,5126.49774],[-3.67,5126.4975],[-3.76,5126.4973],
  [-3.91,5126.49734],[-4.03,5126.49722],[-4.09,5126.49714],
  [-7.7,5126.4983],[-7.52,5126.49822],[-7.16,5126.49838],[-6.92,5126.49838],[-6.68,5126.4985],[-6.43,5126.49846],[-6.31,5126.4983],
  [-6.01,5126.49842],[-5.47,5126.49838],[-5.35,5126.49822],[-5.83,5126.49826],[-4.99,5126.49944],[-4.87,5126.49928],[-5.11,5126.49888],
  // dense cluster
  [-4.3,5126.4999],[-4.2,5126.4999],[-4.1,5126.4999],[-4.0,5126.4999],[-3.9,5126.4999],[-3.8,5126.4999],
  [-4.4,5126.4997],[-4.3,5126.4997],[-4.2,5126.4997],[-4.1,5126.4997],[-4.0,5126.4997],[-3.9,5126.4997],[-3.8,5126.4997],[-3.75,5126.4997],
  [-4.45,5126.4995],[-4.35,5126.4995],[-4.25,5126.4995],[-4.15,5126.4995],[-4.05,5126.4995],[-3.95,5126.4995],[-3.85,5126.4995],[-3.75,5126.4995],
  [-4.5,5126.4993],[-4.4,5126.4993],[-4.3,5126.4993],[-4.2,5126.4993],[-4.1,5126.4993],[-4.0,5126.4993],[-3.9,5126.4993],[-3.8,5126.4993],[-3.72,5126.4993],
  [-4.6,5126.4991],[-4.5,5126.4991],[-4.4,5126.4991],[-4.3,5126.4991],[-4.2,5126.4991],[-4.1,5126.4991],[-4.0,5126.4991],[-3.9,5126.4991],[-3.8,5126.4991],
  [-4.65,5126.4989],[-4.55,5126.4989],[-4.45,5126.4989],[-4.35,5126.4989],[-4.25,5126.4989],[-4.15,5126.4989],[-4.05,5126.4989],[-3.95,5126.4989],
  [-3.85,5126.4989],[-3.75,5126.4989],
  [-4.7,5126.4987],[-4.6,5126.4987],[-4.5,5126.4987],[-4.4,5126.4987],[-4.3,5126.4987],[-4.2,5126.4987],[-4.1,5126.4987],[-4.0,5126.4987],
  [-3.9,5126.4987],[-3.8,5126.4987],
  [-4.75,5126.4985],[-4.65,5126.4985],[-4.55,5126.4985],[-4.45,5126.4985],[-4.35,5126.4985],[-4.25,5126.4985],[-4.15,5126.4985],[-4.05,5126.4985],
  [-3.95,5126.4985],[-3.85,5126.4985],[-3.75,5126.4985],
  [-4.8,5126.4983],[-4.7,5126.4983],[-4.6,5126.4983],[-4.5,5126.4983],[-4.4,5126.4983],[-4.3,5126.4983],[-4.2,5126.4983],[-4.0,5126.4983],
  [-3.9,5126.4983],[-3.8,5126.4983],
  [-4.9,5126.4981],[-4.6,5126.4981],[-4.5,5126.4981],[-4.4,5126.4981],[-4.3,5126.4981],[-4.2,5126.4981],[-3.95,5126.4981],[-3.85,5126.4981],[-3.75,5126.4981],
  [-4.6,5126.4979],[-4.5,5126.4979],[-4.4,5126.4979],[-4.3,5126.4979],[-4.2,5126.4979],[-4.1,5126.4979],[-4.0,5126.4979],[-3.9,5126.4979],[-3.8,5126.4979],
  [-4.3,5126.4977],[-4.2,5126.4977],[-4.1,5126.4977],[-4.0,5126.4977],[-3.9,5126.4977],[-3.8,5126.4977],
  [-4.0,5126.4975],[-3.9,5126.4975],[-3.8,5126.4975],
  [-4.25,5126.5],[-4.15,5126.5],[-4.05,5126.5],[-3.95,5126.5],[-3.85,5126.5],[-3.78,5126.5],
  [-4.35,5126.4998],[-4.25,5126.4998],[-4.15,5126.4998],[-4.05,5126.4998],[-3.95,5126.4998],[-3.85,5126.4998],[-3.77,5126.4998],
  [-4.42,5126.4996],[-4.3,5126.4996],[-4.2,5126.4996],[-4.1,5126.4996],[-4.0,5126.4996],[-3.9,5126.4996],[-3.8,5126.4996],[-3.72,5126.4996],
  [-4.45,5126.4994],[-4.35,5126.4994],[-4.25,5126.4994],[-4.15,5126.4994],[-4.05,5126.4994],[-3.95,5126.4994],[-3.85,5126.4994],[-3.75,5126.4994],
  [-4.55,5126.4992],[-4.45,5126.4992],[-4.35,5126.4992],[-4.25,5126.4992],[-4.15,5126.4992],[-4.05,5126.4992],[-3.95,5126.4992],[-3.85,5126.4992],[-3.75,5126.4992],
  [-4.6,5126.499],[-4.5,5126.499],[-4.4,5126.499],[-4.3,5126.499],[-4.2,5126.499],[-4.1,5126.499],[-4.0,5126.499],[-3.9,5126.499],[-3.8,5126.499],[-3.72,5126.499],
  [-4.65,5126.4988],[-4.55,5126.4988],[-4.45,5126.4988],[-4.35,5126.4988],[-4.25,5126.4988],[-4.15,5126.4988],[-4.05,5126.4988],[-3.95,5126.4988],
  [-3.85,5126.4988],[-3.75,5126.4988],
  [-4.7,5126.4986],[-4.6,5126.4986],[-4.5,5126.4986],[-4.4,5126.4986],[-4.3,5126.4986],[-4.2,5126.4986],[-4.1,5126.4986],[-4.0,5126.4986],
  [-3.9,5126.4986],[-3.8,5126.4986],
  [-4.75,5126.4984],[-4.65,5126.4984],[-4.55,5126.4984],[-4.45,5126.4984],[-4.35,5126.4984],[-4.25,5126.4984],[-4.1,5126.4984],[-3.95,5126.4984],
  [-3.85,5126.4984],[-3.75,5126.4984],
  [-4.85,5126.4982],[-4.7,5126.4982],[-4.55,5126.4982],[-4.45,5126.4982],[-4.35,5126.4982],[-4.25,5126.4982],[-4.15,5126.4982],[-3.9,5126.4982],[-3.8,5126.4982],
  [-4.55,5126.498],[-4.45,5126.498],[-4.35,5126.498],[-4.25,5126.498],[-4.15,5126.498],[-4.05,5126.498],[-3.95,5126.498],[-3.85,5126.498],[-3.75,5126.498],
  [-4.35,5126.4978],[-4.25,5126.4978],[-4.15,5126.4978],[-4.05,5126.4978],[-3.95,5126.4978],[-3.85,5126.4978],[-3.78,5126.4978],
  [-4.15,5126.4976],[-4.05,5126.4976],[-3.95,5126.4976],[-3.85,5126.4976],[-3.78,5126.4976],
  [-3.97,5126.4975],[-3.97,5126.49765],[-3.97,5126.4978],[-3.97,5126.49795],[-3.97,5126.4981],[-3.97,5126.49825],[-3.97,5126.4984],
  [-3.97,5126.49855],[-3.97,5126.4987],[-3.97,5126.49885],[-3.97,5126.499],[-3.97,5126.49915],[-3.97,5126.4993],[-3.97,5126.49945],
  [-3.97,5126.4996],[-3.97,5126.49975],[-3.97,5126.4999],
  [-3.2,5126.49488]
];
const g05Socu = [];

// axis limits and tick labels
const g03XLim = [-10.93, -2.66], g03YLim = [-1.001044, -0.999425];
const g03XMajor = [-9, -7, -5, -3], g03XMinor = [-10, -8, -6, -4];
const g03YMajor = [-0.9995, -1.0, -1.0005, -1.001], g03YMinor = [-0.99975, -1.00025, -1.00075];

const g11XLim = [-10.17, -2.70], g11YLim = [0.748951, 0.750577];
const g11XMajor = [-10, -8, -6, -4], g11XMinor = [-9, -7, -5, -3];
const g11YMajor = [0.7505, 0.75, 0.7495, 0.749], g11YMinor = [0.75025, 0.74975, 0.74925];

const g15XLim = [-9.07, -2.74], g15YLim = [961.713928, 961.716096];
const g15XMajor = [-9, -8, -7, -6, -5, -4, -3], g15XMinor = [-8.5, -7.5, -6.5, -5.5, -4.5, -3.5];
const g15YMajor = [961.716, 961.7155, 961.715, 961.7145, 961.714], g15YMinor = [961.71575, 961.71525, 961.71475, 961.71425];

const g05XLim = [-8.24, -2.95], g05YLim = [5126.494639, 5126.500248];
const g05XMajor = [-8, -7, -6, -5, -4, -3], g05XMinor = [-7.5, -6.5, -5.5, -4.5, -3.5];
const g05YMajor = [5126.5, 5126.499, 5126.498, 5126.497, 5126.496, 5126.495], g05YMinor = [5126.4995, 5126.4985, 5126.4975, 5126.4965, 5126.4955];

// ---------- drawing ----------
const FONT = "'Liberation Sans', Arial, sans-serif";
Chart.defaults.font.family = FONT;

const STRIP_H = 33;

// strip header + panel border, like facet_wrap in theme_bw
const stripPlugin = {
  id: 'strip',
  afterDraw(chart, args, opts) {
    const { ctx, chartArea: a } = chart;
    const w = a.right - a.left;
    ctx.save();
    ctx.fillStyle = '#D9D9D9';
    ctx.fillRect(a.left, a.top - STRIP_H, w, STRIP_H);
    ctx.strokeStyle = '#333333';
    ctx.lineWidth = 1;
    ctx.strokeRect(a.left + 0.5, a.top - STRIP_H + 0.5, w - 1, STRIP_H);
    ctx.strokeRect(a.left + 0.5, a.top + 0.5, w - 1, a.bottom - a.top - 1);
    ctx.fillStyle = '#1A1A1A';
    ctx.font = '22px ' + FONT;
    ctx.textAlign = 'center';
    ctx.textBaseline = 'middle';
    ctx.fillText(opts.title, a.left + w / 2, a.top - STRIP_H / 2 + 1);
    ctx.restore();
  }
};

function tickList(major, minor) {
  return major.map(v => ({ value: v, isMajor: true }))
    .concat(minor.map(v => ({ value: v, isMajor: false })));
}

const gridOpts = {
  color: c => (c.tick && c.tick.isMajor) ? '#EBEBEB' : '#F3F3F3',
  lineWidth: c => (c.tick && c.tick.isMajor) ? 1.1 : 0.7,
  tickColor: c => (c.tick && c.tick.isMajor) ? '#333333' : 'rgba(0,0,0,0)',
  tickLength: 3,
  tickWidth: 1
};

function makePanel(id, title, sacobra, socu, xLim, yLim, xMajor, xMinor, yMajor, yMinor, yDigits) {
  const ctx = document.getElementById(id).getContext('2d');
  return new Chart(ctx, {
    type: 'scatter',
    data: {
      datasets: [
        {
          label: seriesNames[0],
          data: sacobra,
          order: 1,
          pointRadius: 5.5,
          pointBorderWidth: 0,
          pointBackgroundColor: 'rgba(190,190,190,0.5)',
          clip: 0
        },
        {
          label: seriesNames[1],
          data: socu,
          order: 0,
          pointRadius: 2,
          pointBorderWidth: 0,
          pointBackgroundColor: 'rgba(40,150,40,0.6)',
          clip: 0
        }
      ]
    },
    options: {
      responsive: false,
      animation: false,
      events: [],
      layout: { padding: { top: STRIP_H, right: 12, left: 0, bottom: 0 } },
      scales: {
        x: {
          type: 'linear',
          position: 'bottom',
          min: xLim[0],
          max: xLim[1],
          afterBuildTicks: s => { s.ticks = tickList(xMajor, xMinor); },
          afterFit: s => { s.height = 26; },
          ticks: {
            autoSkip: false,
            maxRotation: 0,
            padding: 4,
            color: '#4D4D4D',
            font: { size: 14.5 },
            callback: (v, i, t) => t[i].isMajor ? String(v) : ''
          },
          grid: gridOpts,
          border: { display: false }
        },
        y: {
          type: 'linear',
          position: 'left',
          min: yLim[0],
          max: yLim[1],
          afterBuildTicks: s => { s.ticks = tickList(yMajor, yMinor); },
          afterFit: s => { s.width = 92; },
          ticks: {
            autoSkip: false,
            padding: 2,
            color: '#4D4D4D',
            font: { size: 14.5 },
            callback: (v, i, t) => t[i].isMajor ? Number(v).toFixed(yDigits) : ''
          },
          grid: gridOpts,
          border: { display: false }
        }
      },
      plugins: {
        legend: { display: false },
        tooltip: { enabled: false },
        strip: { title: title }
      }
    },
    plugins: [stripPlugin]
  });
}

makePanel('g03', panelTitles[0], g03Sacobra, g03Socu, g03XLim, g03YLim, g03XMajor, g03XMinor, g03YMajor, g03YMinor, 4);
makePanel('g11', panelTitles[1], g11Sacobra, g11Socu, g11XLim, g11YLim, g11XMajor, g11XMinor, g11YMajor, g11YMinor, 4);
makePanel('g15', panelTitles[2], g15Sacobra, g15Socu, g15XLim, g15YLim, g15XMajor, g15XMinor, g15YMajor, g15YMinor, 4);
makePanel('g05', panelTitles[3], g05Sacobra, g05Socu, g05XLim, g05YLim, g05XMajor, g05XMinor, g05YMajor, g05YMinor, 3);
</script>
</body>
</html>
